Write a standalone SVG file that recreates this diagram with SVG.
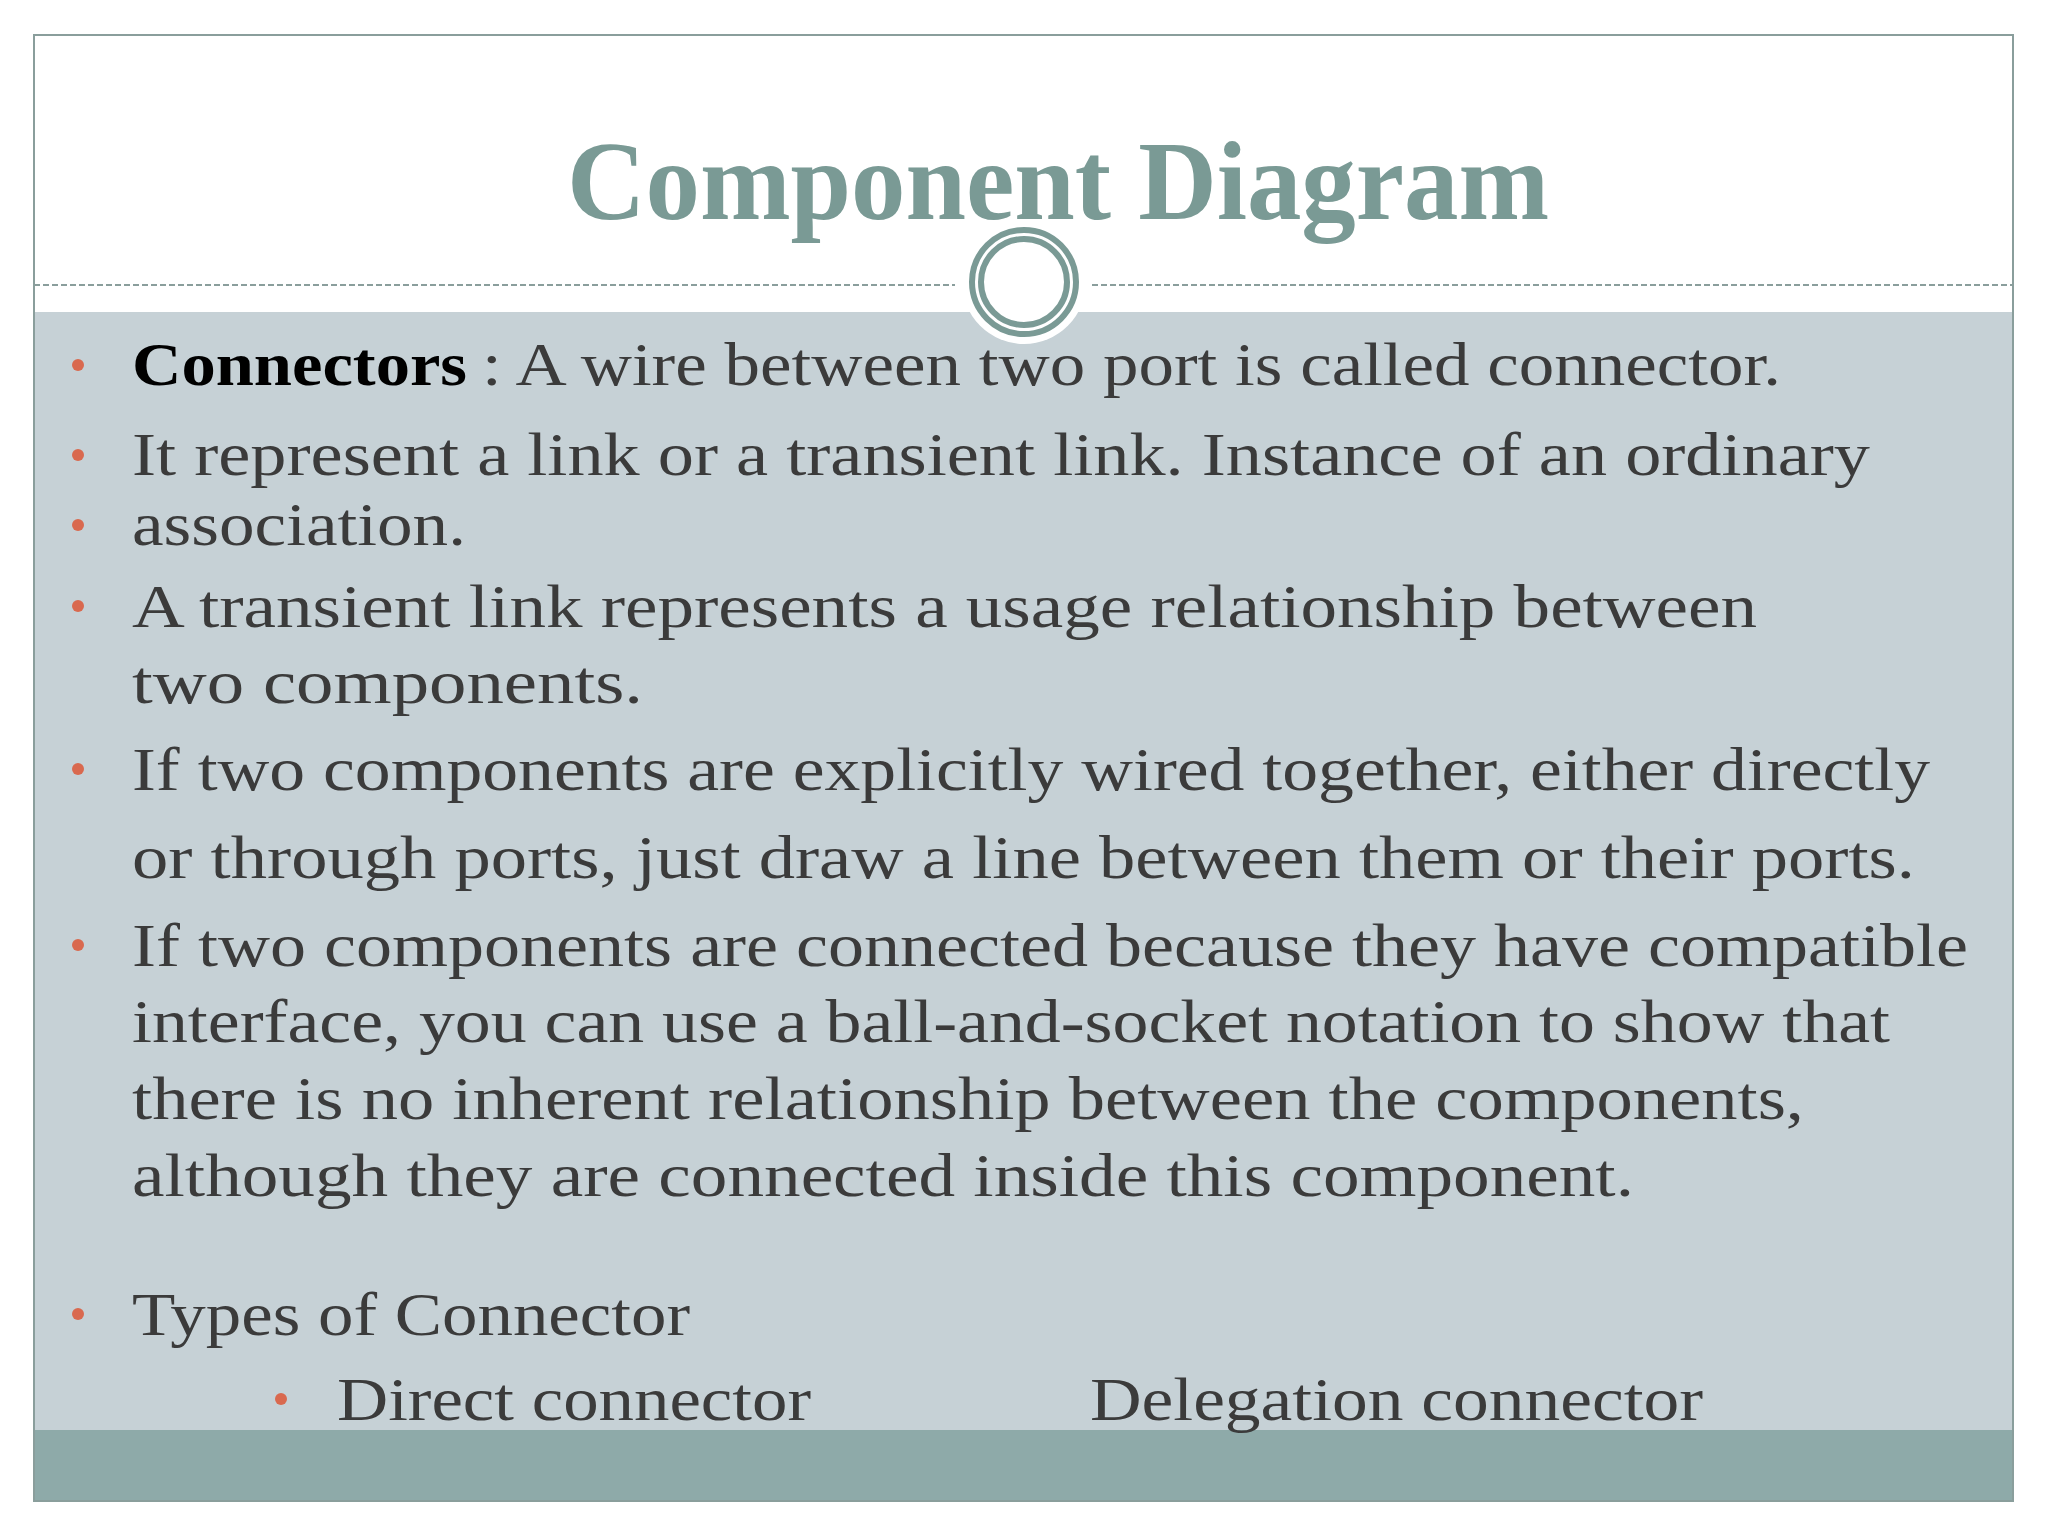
<svg xmlns="http://www.w3.org/2000/svg" width="2048" height="1536" viewBox="0 0 2048 1536">
<style>
.t{font-family:"Liberation Serif",serif;font-size:62px;fill:#3b3b3b}
.b{fill:#d9694f}
</style>
<rect width="2048" height="1536" fill="#fff"/>
<g id="frame">
<rect x="34" y="312" width="1979" height="1118" fill="#c6d1d6"/>
<rect x="34" y="1430" width="1979" height="71" fill="#8eaaa9"/>
<rect x="34" y="35" width="1979" height="1466" fill="none" stroke="#8a9e9c" stroke-width="2"/>
<line x1="34" y1="285" x2="955" y2="285" stroke="#8a9e9c" stroke-width="2" stroke-dasharray="6,3"/>
<line x1="1092" y1="285" x2="2013" y2="285" stroke="#8a9e9c" stroke-width="2" stroke-dasharray="6,3"/>
<circle cx="1024" cy="282" r="62" fill="#fff"/>
<circle cx="1024" cy="282" r="52" fill="none" stroke="#7a9a95" stroke-width="6"/>
<circle cx="1024" cy="282" r="43" fill="none" stroke="#7a9a95" stroke-width="6"/>
</g>
<g id="title"><text x="1058" y="219" text-anchor="middle" font-family="Liberation Serif,serif" font-weight="bold" font-size="112" fill="#7a9a95" textLength="982" lengthAdjust="spacingAndGlyphs">Component Diagram</text></g>
<g id="bullets">
<circle class="b" cx="78" cy="365" r="6"/><circle class="b" cx="78" cy="455" r="6"/><circle class="b" cx="78" cy="525" r="6"/><circle class="b" cx="78" cy="606" r="6"/><circle class="b" cx="78" cy="769" r="6"/><circle class="b" cx="78" cy="945" r="6"/><circle class="b" cx="78" cy="1314" r="6"/><circle class="b" cx="281" cy="1399" r="6"/>
</g>
<g id="body">
<text x="132" y="385" font-family="Liberation Serif,serif" font-weight="bold" font-size="62" fill="#000" textLength="335" lengthAdjust="spacingAndGlyphs">Connectors</text>
<text class="t" x="482" y="385" textLength="1299" lengthAdjust="spacingAndGlyphs">: A wire between two port is called connector.</text>
<text class="t" x="132" y="475" textLength="1738" lengthAdjust="spacingAndGlyphs">It represent a link or a transient link. Instance of an ordinary</text>
<text class="t" x="132" y="545" textLength="334" lengthAdjust="spacingAndGlyphs">association.</text>
<text class="t" x="132" y="627" textLength="1625" lengthAdjust="spacingAndGlyphs">A transient link represents a usage relationship between</text>
<text class="t" x="132" y="703" textLength="511" lengthAdjust="spacingAndGlyphs">two  components.</text>
<text class="t" x="132" y="790" textLength="1798" lengthAdjust="spacingAndGlyphs">If two components are explicitly wired together, either directly</text>
<text class="t" x="132" y="878" textLength="1783" lengthAdjust="spacingAndGlyphs">or through ports, just draw a line between them or their ports.</text>
<text class="t" x="132" y="966" textLength="1836" lengthAdjust="spacingAndGlyphs">If two components are connected because they have compatible</text>
<text class="t" x="132" y="1042" textLength="1758" lengthAdjust="spacingAndGlyphs">interface, you can use a ball-and-socket notation to show that</text>
<text class="t" x="132" y="1119" textLength="1672" lengthAdjust="spacingAndGlyphs">there is no inherent relationship between the components,</text>
<text class="t" x="132" y="1196" textLength="1502" lengthAdjust="spacingAndGlyphs">although  they are connected inside this component.</text>
<text class="t" x="132" y="1335" textLength="558" lengthAdjust="spacingAndGlyphs">Types of Connector</text>
<text class="t" x="337" y="1420" textLength="474" lengthAdjust="spacingAndGlyphs">Direct connector</text>
<text class="t" x="1090" y="1420" textLength="613" lengthAdjust="spacingAndGlyphs">Delegation connector</text>
</g>
</svg>
